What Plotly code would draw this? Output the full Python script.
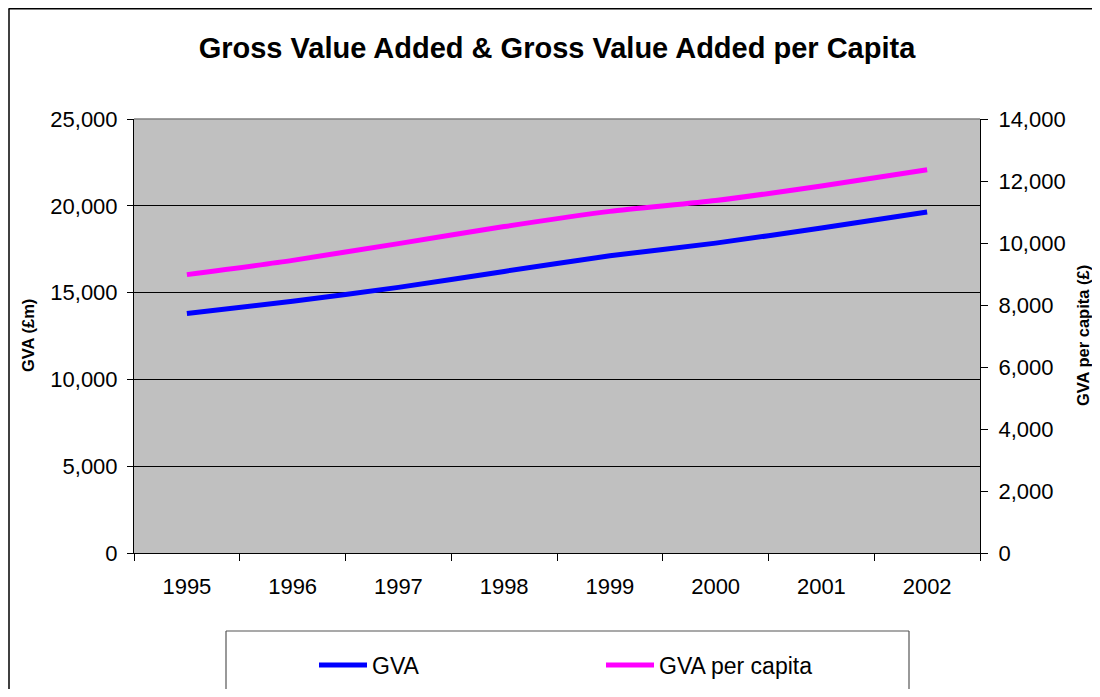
import plotly.graph_objects as go

years = ["1995", "1996", "1997", "1998", "1999", "2000", "2001", "2002"]
gva = [13800, 14500, 15300, 16220, 17120, 17850, 18720, 19640]
gva_per_capita = [8980, 9440, 9980, 10530, 11020, 11370, 11840, 12360]

FONT = "Liberation Sans, Arial, sans-serif"

# page has an 8px body margin: screen = figure + 8
OFF = 8
W, H = 1100 - 2 * OFF, 697 - 2 * OFF
# plot area in screen pixels
SL, SR, ST, SB = 134, 980, 119, 553
L, R, T, B = SL - OFF, SR - OFF, ST - OFF, SB - OFF


def px(p):
    """screen x pixel -> paper x"""
    return (p - OFF - L) / (R - L)


def py(p):
    """screen y pixel -> paper y"""
    return (B - (p - OFF)) / (B - T)


def seg(x0, y0, x1, y1, color, width):
    return dict(type="line", xref="paper", yref="paper",
                x0=px(x0), y0=py(y0), x1=px(x1), y1=py(y1),
                line=dict(color=color, width=width), layer="below")


fig = go.Figure()
fig.add_trace(go.Scatter(
    x=years, y=gva, name="GVA", mode="lines",
    line=dict(color="#0000FF", width=5, shape="spline", smoothing=0.6),
    yaxis="y",
))
fig.add_trace(go.Scatter(
    x=years, y=gva_per_capita, name="GVA per capita", mode="lines",
    line=dict(color="#FF00FF", width=5, shape="spline", smoothing=0.6),
    yaxis="y2",
))

fig.update_layout(
    width=W, height=H,
    margin=dict(l=L, r=W - R, t=T, b=H - B, autoexpand=False),
    paper_bgcolor="white",
    plot_bgcolor="#C0C0C0",
    font=dict(family=FONT, size=22, color="black"),
    title=dict(
        text="<b>Gross Value Added & Gross Value Added per Capita</b>",
        font=dict(family=FONT, size=29, color="black"),
        x=0.5, xref="paper", xanchor="center",
        y=1 - (48 - OFF) / H, yref="container", yanchor="middle",
    ),
    xaxis=dict(
        type="category", range=[-0.5, 7.5],
        tickson="boundaries", ticks="outside", ticklen=7, tickcolor="black",
        showline=True, linecolor="black", linewidth=1,
        showgrid=False, ticklabelstandoff=14,
        tickfont=dict(family=FONT, size=22, color="black"),
    ),
    yaxis=dict(
        range=[0, 25000], dtick=5000, tickformat=",",
        ticks="outside", ticklen=6, tickcolor="black",
        showline=True, linecolor="black", linewidth=1,
        showgrid=True, gridcolor="black", gridwidth=1,
        zeroline=False, ticklabelstandoff=5,
        tickfont=dict(family=FONT, size=22, color="black"),
    ),
    yaxis2=dict(
        range=[0, 14000], dtick=2000, tickformat=",",
        overlaying="y", side="right",
        ticks="outside", ticklen=7, tickcolor="black",
        showline=True, linecolor="black", linewidth=1,
        showgrid=False, zeroline=False, ticklabelstandoff=6,
        tickfont=dict(family=FONT, size=22, color="black"),
    ),
    showlegend=True,
    legend=dict(
        orientation="h",
        x=px(314), xanchor="left",
        y=py(665), yanchor="middle",
        bgcolor="rgba(0,0,0,0)", borderwidth=0,
        entrywidth=224, entrywidthmode="pixels",
        itemwidth=48,
        font=dict(family=FONT, size=23, color="black"),
    ),
    annotations=[
        dict(text="<b>GVA (£m)</b>", textangle=-90,
             xref="paper", yref="paper", x=px(28), y=0.5,
             xanchor="center", yanchor="middle", showarrow=False,
             font=dict(family=FONT, size=16.5, color="black")),
        dict(text="<b>GVA per capita (£)</b>", textangle=-90,
             xref="paper", yref="paper", x=px(1083), y=0.5,
             xanchor="center", yanchor="middle", showarrow=False,
             font=dict(family=FONT, size=16.5, color="black")),
    ],
    shapes=[
        # outer chart border (top and left visible only)
        seg(8.5, 8.8, 1130, 8.8, "black", 1.5),
        seg(9, 8.8, 9, 730, "black", 1.5),
        # legend box (top, left, right)
        seg(226, 631, 909, 631, "#555555", 1.2),
        seg(226, 631, 226, 730, "#555555", 1.2),
        seg(909, 631, 909, 730, "#555555", 1.2),
        # plot area top border (grey)
        dict(type="line", xref="paper", yref="paper",
             x0=0, x1=1, y0=1, y1=1,
             line=dict(color="#808080", width=1.5)),
    ],
)

fig.write_html("out.html")
